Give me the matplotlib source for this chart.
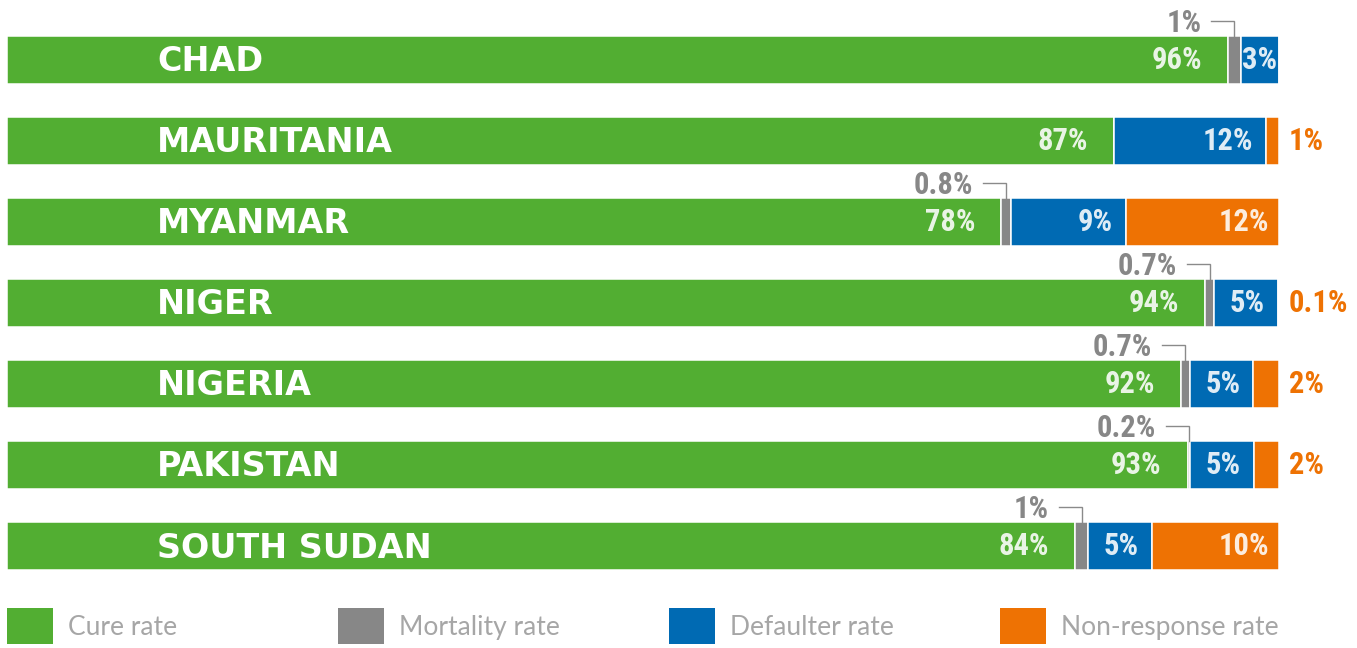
import numpy as np
import matplotlib.pyplot as plt
from matplotlib.patches import Patch

countries = ['CHAD', 'MAURITANIA', 'MYANMAR', 'NIGER', 'NIGERIA', 'PAKISTAN', 'SOUTH SUDAN']
cure = [96, 87, 78, 94, 92, 93, 84]
mortality = [1, 0, 0.8, 0.7, 0.7, 0.2, 1]
defaulter = [3, 12, 9, 5, 5, 5, 5]
nonresponse = [0, 1, 12, 0.1, 2, 2, 10]

series_names = ['Cure rate', 'Mortality rate', 'Defaulter rate', 'Non-response rate']
series_colors = ['#52ae32', '#878787', '#006ab3', '#ee7203']

W, H = 1357, 648
fig = plt.figure(figsize=(W / 100, H / 100), dpi=100)
ax = fig.add_axes([0, 0, 1, 1])

# pixel -> data helpers (100% spans 1272 px, rows are 81 px apart)
px = 100 / 1272
py = 1 / 81
ax.set_xlim(-7 * px, (W - 7) * px)
ax.set_ylim((H - 60) * py, -60 * py)
ax.axis('off')

cond = ['Roboto Condensed', 'Roboto', 'DejaVu Sans']
lab_kw = dict(family=cond, fontweight='bold', fontsize=22, va='center')

def fmt(v):
    return f'{v:g}%'

data = np.array([cure, mortality, defaulter, nonresponse], dtype=float)
# rows drawn as full-width bars (shares scaled to 100)
widths = data / data.sum(axis=0) * 100

y = np.arange(len(countries))
left = np.zeros(len(countries))
bh = 48 * py
for k, col in enumerate(series_colors):
    vals = data[k]
    w = widths[k]
    ax.barh(y, w, left=left, height=bh, color=col, edgecolor='white', linewidth=1.1)
    for i, v in enumerate(vals):
        if v <= 0:
            continue
        end = left[i] + w[i]
        if k == 0:
            ax.text(end - 26 * px, i, fmt(v), ha='right', color='white', alpha=0.88, **lab_kw)
        elif k == 1:
            cx = left[i] + w[i] / 2
            ty = i - bh / 2 - 13 * py
            ax.text(cx - 33 * px, ty, fmt(v), ha='right', color='#878787', **lab_kw)
            ax.plot([cx - 23 * px, cx, cx], [ty - 2 * py] * 2 + [i - bh / 2], color='#8a8a8a', lw=1,
                    solid_joinstyle='miter')
        elif k == 2:
            if v < 4:
                ax.text(left[i] + w[i] / 2, i, fmt(v), ha='center', color='white', alpha=0.88, **lab_kw)
            else:
                ax.text(end - 13 * px, i, fmt(v), ha='right', color='white', alpha=0.88, **lab_kw)
        else:
            if v >= 5:
                ax.text(end - 10 * px, i, fmt(v), ha='right', color='white', alpha=0.88, **lab_kw)
            else:
                ax.text(end + 10 * px, i, fmt(v), ha='left', color=col, **lab_kw)
    left += w

for i, name in enumerate(countries):
    ax.text(150 * px, i + 2 * py, name, ha='left', va='center', color='white',
            fontsize=24, fontweight='bold', family='DejaVu Sans')

# legend, one entry per block spaced evenly
fs = 19
fs_px = fs * 100 / 72
for j, (name, col) in enumerate(zip(series_names, series_colors)):
    fig.legend(handles=[Patch(facecolor=col, edgecolor='none', label=name)],
               loc='center left', bbox_to_anchor=((7 + 331 * j) / W, 1 - 626 / H),
               frameon=False, borderpad=0, borderaxespad=0,
               handlelength=46 / fs_px, handleheight=44 / fs_px, handletextpad=15 / fs_px,
               prop=dict(family=['Lato', 'DejaVu Sans'], weight='normal', size=fs),
               labelcolor='#a6a6a6')

fig.savefig('out.png', dpi=100)
